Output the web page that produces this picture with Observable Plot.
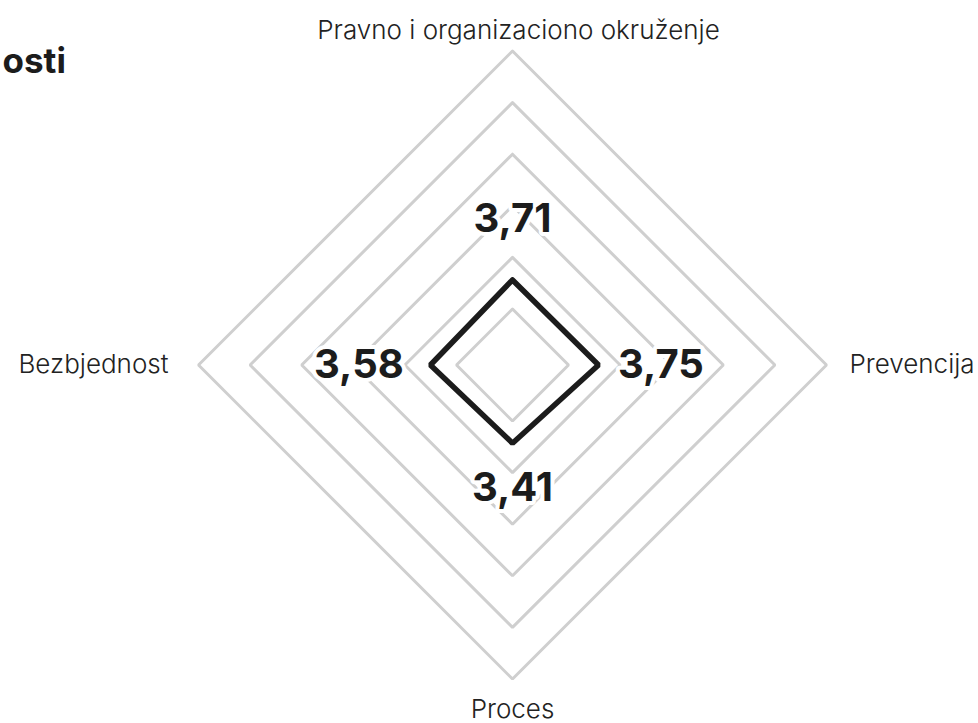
<!DOCTYPE html>
<html>
<head>
<meta charset="utf-8">
<script src="https://cdn.jsdelivr.net/npm/d3@7"></script>
<script src="https://cdn.jsdelivr.net/npm/@observablehq/plot@0.6"></script>
<style>
  html, body { margin: 0; padding: 0; background: #fff; }
  #chart svg { display: block; }
</style>
</head>
<body>
<div id="chart"></div>
<script>
// ---- data ----
const titleText = "osti";
const axisNames = ["Pravno i organizaciono okruženje", "Prevencija", "Proces", "Bezbjednost"];
const values = [3.71, 3.75, 3.41, 3.58];
const valueLabels = ["3,71", "3,75", "3,41", "3,58"];
const gridLevels = [1, 2, 3, 4, 5, 6];

// ---- geometry helpers ----
const W = 978, H = 723;
const cx = 512, cy = 364.5;               // center in pixels
const angles = [90, 0, -90, 180].map(d => d * Math.PI / 180); // top, right, bottom, left
const gridR = d3.scaleLinear().domain([1, 6]).range([56, 314]);
const dataR = d3.scaleLinear().domain([0, 1]).range([0, 22.93]);
const pt = (i, r) => [r * Math.cos(angles[i]), r * Math.sin(angles[i])];

// grid rings
const gridRows = gridLevels.flatMap(level =>
  [0, 1, 2, 3, 0].map(i => {
    const [x, y] = pt(i, gridR(level));
    return {level, x, y};
  })
);
// data polygon
const polyRows = [0, 1, 2, 3, 0].map(i => {
  const [x, y] = pt(i, dataR(values[i]));
  return {x, y};
});

// per-direction label styling (anchors and gaps)
const axisStyle = [
  {textAnchor: "middle", lineAnchor: "bottom", gap: 12.5, dx: 6},
  {textAnchor: "start", lineAnchor: "middle", gap: 23, dx: 0},
  {textAnchor: "middle", lineAnchor: "top", gap: 20.5, dx: 0},
  {textAnchor: "end", lineAnchor: "middle", gap: 30, dx: 0}
];
const valueGap = [60.5, 62.5, 44.5, 71.5];

const outerR = gridR(d3.max(gridLevels));
const axisMarks = axisNames.map((name, i) => {
  const s = axisStyle[i];
  const [x, y] = pt(i, outerR + s.gap);
  return Plot.text([{name, x, y}], {
    x: "x", y: "y", text: "name",
    textAnchor: s.textAnchor, lineAnchor: s.lineAnchor, dx: s.dx,
    fontSize: 26, fontWeight: 300, fill: "#222",
    letterSpacing: "-0.2px",
    fontFamily: "Inter, 'Noto Sans', sans-serif"
  });
});

const valueRows = values.map((v, i) => {
  const [x, y] = pt(i, dataR(v) + valueGap[i]);
  return {label: valueLabels[i], x, y};
});

const chart = Plot.plot({
  width: W,
  height: H,
  margin: 0,
  x: {domain: [-cx, W - cx], axis: null},
  y: {domain: [cy - H, cy], axis: null},
  style: {fontFamily: "Inter, 'Noto Sans', sans-serif", background: "#fff"},
  marks: [
    Plot.line(gridRows, {x: "x", y: "y", z: "level", stroke: "#cfcfcf", strokeWidth: 3, strokeLinejoin: "miter", curve: "linear"}),
    Plot.line(polyRows, {x: "x", y: "y", stroke: "#1c1c1c", strokeWidth: 5.5, strokeLinejoin: "miter", curve: "linear"}),
    Plot.text(valueRows, {
      x: "x", y: "y", text: "label",
      textAnchor: "middle", lineAnchor: "middle",
      fontSize: 40, fontWeight: 700, fill: "#1c1c1c",
      stroke: "#fff", strokeWidth: 8, paintOrder: "stroke"
    }),
    ...axisMarks,
    Plot.text([titleText], {
      frameAnchor: "top-left", text: d => d,
      textAnchor: "start", lineAnchor: "bottom", dx: 2, dy: 72,
      fontSize: 35, fontWeight: 700, fill: "#1c1c1c"
    })
  ]
});
document.getElementById("chart").appendChild(chart);
</script>
</body>
</html>
